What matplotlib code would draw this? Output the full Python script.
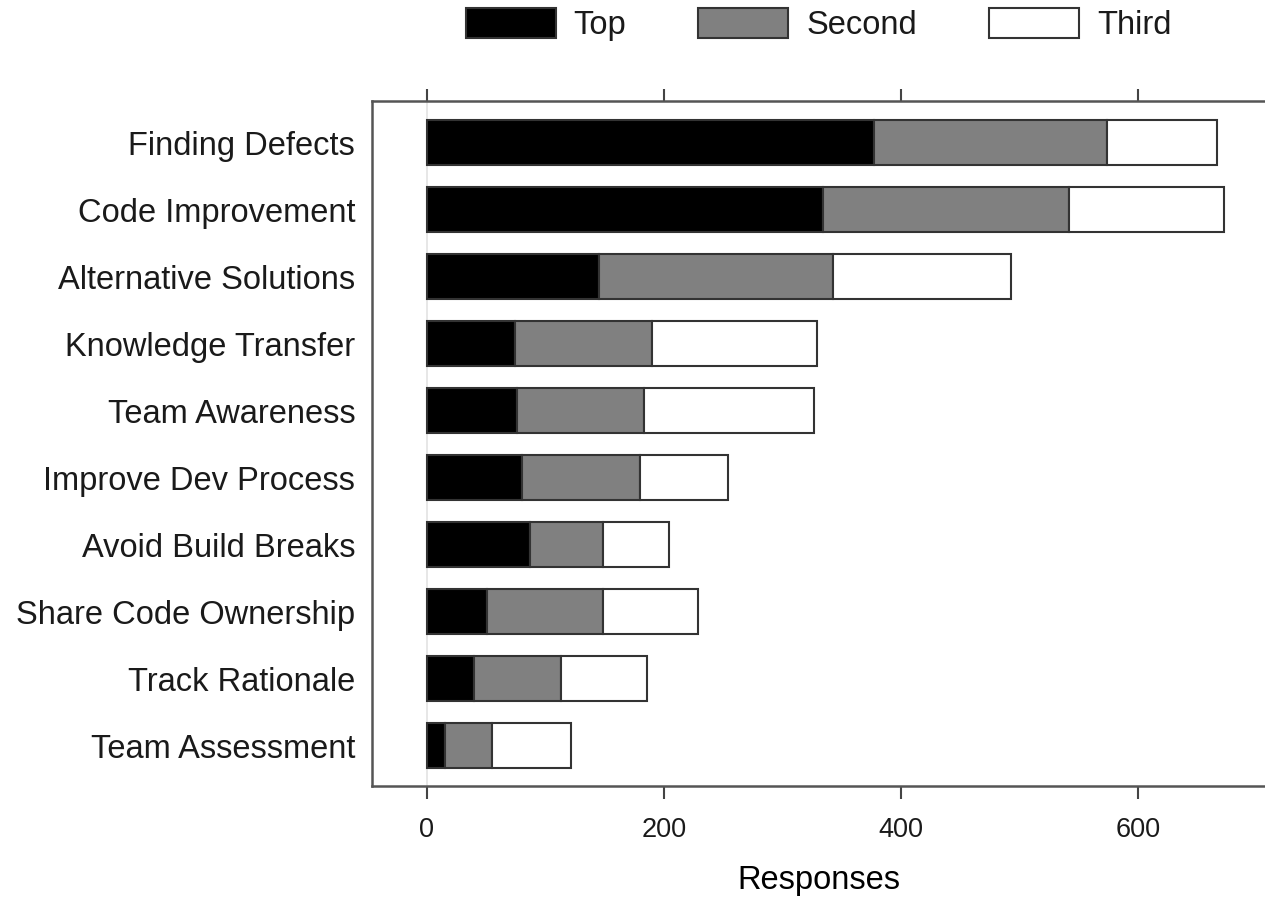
import matplotlib.pyplot as plt
import numpy as np

plt.rcParams['font.family'] = ['Liberation Sans', 'DejaVu Sans']
plt.rcParams['text.color'] = '#1a1a1a'
plt.rcParams['xtick.color'] = '#1a1a1a'
plt.rcParams['ytick.color'] = '#1a1a1a'

# данные
categories = ['Finding Defects', 'Code Improvement', 'Alternative Solutions',
              'Knowledge Transfer', 'Team Awareness', 'Improve Dev Process',
              'Avoid Build Breaks', 'Share Code Ownership', 'Track Rationale',
              'Team Assessment']
top = [377, 334, 145, 74, 76, 80, 87, 51, 40, 15]
second = [197, 208, 198, 116, 107, 100, 62, 98, 73, 40]
third = [93, 131, 150, 139, 144, 74, 55, 80, 73, 67]
series_names = ['Top', 'Second', 'Third']
x_ticks = [0, 200, 400, 600]

fig = plt.figure(figsize=(12.65, 9), dpi=100)
ax = fig.add_axes([0.294, 0.1267, 0.706, 0.7611])

y = np.arange(len(categories))[::-1]
top = np.array(top)
second = np.array(second)
third = np.array(third)

edge = '#333333'
h = 0.67
b1 = ax.barh(y, top, height=h, color='black', edgecolor=edge, linewidth=1.5, label=series_names[0], zorder=2)
b2 = ax.barh(y, second, left=top, height=h, color='#808080', edgecolor=edge, linewidth=1.5, label=series_names[1], zorder=2)
b3 = ax.barh(y, third, left=top + second, height=h, color='white', edgecolor=edge, linewidth=1.5, label=series_names[2], zorder=2)

# слабая линия на нуле
ax.axvline(0, color='#e3e3e3', lw=1.2, zorder=0)

ax.set_xlim(-46.4, 707.2)
ax.set_ylim(-0.6, 9.62)
ax.set_yticks(y)
ax.set_yticklabels(categories, fontsize=23.5)
ax.tick_params(axis='y', length=0, pad=12)
ax.set_xticks(x_ticks)
ax.tick_params(axis='x', which='both', top=True, bottom=True, labeltop=False,
               direction='out', length=9, width=1.5, color='#444444',
               labelsize=19.5, pad=13)
ax.set_xlabel('Responses', fontsize=23.5, labelpad=16)

ax.spines['right'].set_visible(False)
for s in ['left', 'top', 'bottom']:
    ax.spines[s].set_color('#555555')
    ax.spines[s].set_linewidth(1.8)

fig.legend(handles=[b1, b2, b3], loc='center', bbox_to_anchor=(0.647, 0.973),
           ncol=3, frameon=False, fontsize=23.5, handlelength=2.76,
           handleheight=1.05, handletextpad=0.55, columnspacing=2.2,
           borderpad=0)

plt.savefig('out.png', dpi=100)
plt.close()
